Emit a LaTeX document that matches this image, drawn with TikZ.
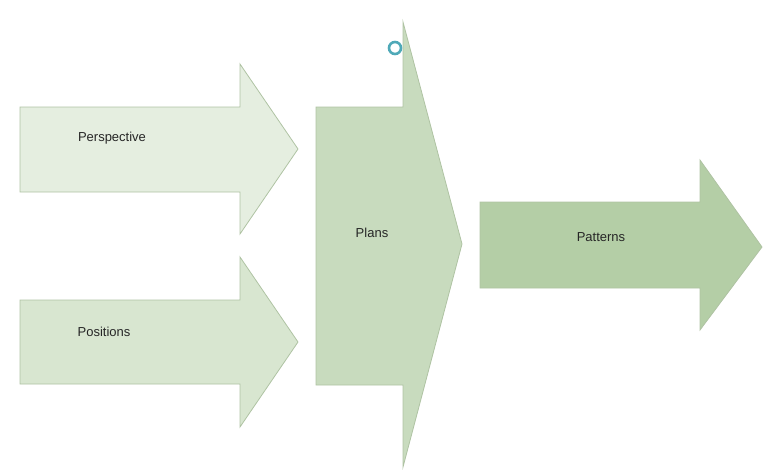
\documentclass[tikz,border=0pt]{standalone}
\usepackage{fontspec}
\setmainfont{Liberation Sans}
\usetikzlibrary{positioning}
\definecolor{edgegreen}{HTML}{AFC3A3}
\definecolor{persp}{HTML}{E5EEE0}
\definecolor{posit}{HTML}{D8E6D0}
\definecolor{plans}{HTML}{C8DBBE}
\definecolor{pattn}{HTML}{B4CEA6}
\definecolor{spin}{HTML}{4FA9B8}
\tikzset{%
  bigarrow/.style = {draw=edgegreen, line width=0.8pt, line join=miter},%
  lbl/.style      = {font=\fontsize{13}{15}\selectfont, text=black!85, inner sep=0pt}%
}

\begin{document}
\begin{tikzpicture}[x=1pt,y=-1pt]%
	\useasboundingbox (0,0) rectangle (782,469);
	% inputs
	\draw [bigarrow,fill=persp] (20,107) -- (240,107) -- (240,64) -- (298,149)
		-- (240,234) -- (240,192) -- (20,192) -- cycle;
	\draw [bigarrow,fill=posit] (20,300) -- (240,300) -- (240,257) -- (298,342)
		-- (240,427) -- (240,384) -- (20,384) -- cycle;
	% middle
	\draw [bigarrow,fill=plans] (316,107) -- (403,107) -- (403,22) -- (462,244)
		-- (403,467) -- (403,385) -- (316,385) -- cycle;
	% output
	\draw [bigarrow,fill=pattn] (480,202) -- (700,202) -- (700,160) -- (762,247)
		-- (700,330) -- (700,288) -- (480,288) -- cycle;
	\node [lbl] (persp) at (112,138) {Perspective};
	\node [lbl] (posit) at (104,332) {Positions};
	\node [lbl] (plans) at (372,233) {Plans};
	\node [lbl] (pattn) at (601,237) {Patterns};
	% busy cursor
	\draw [spin, line width=2.6pt] (395,48) circle (6);
\end{tikzpicture}
\end{document}
